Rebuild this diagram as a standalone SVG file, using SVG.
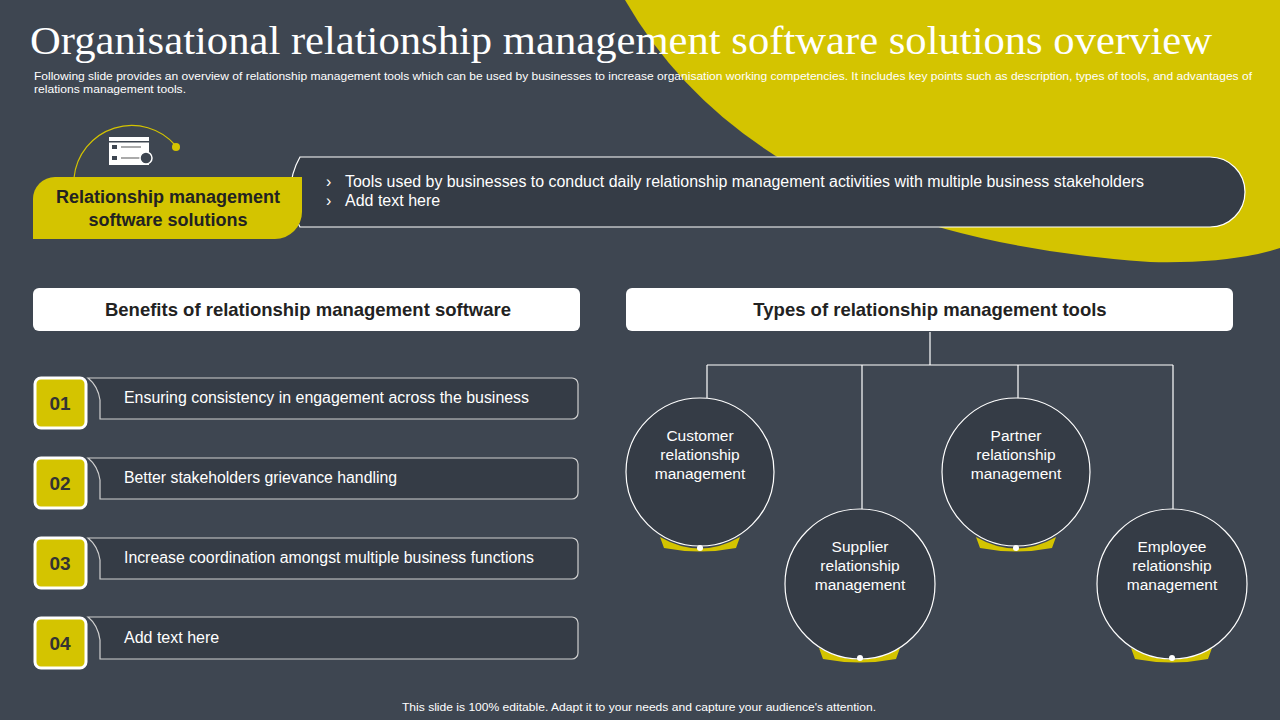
<svg xmlns="http://www.w3.org/2000/svg" width="1280" height="720" viewBox="0 0 1280 720">
<style>
text{font-family:"Liberation Sans",Arial,sans-serif}
.hd{font-size:18.5px;font-weight:bold;fill:#222;text-anchor:middle}
.it{font-size:16px;fill:#fff}
.num{font-size:19px;font-weight:bold;fill:#333;text-anchor:middle}
.ct{font-size:15.5px;fill:#fff;text-anchor:middle}
.circ{fill:#353c46;stroke:#fff;stroke-width:1.2}
.ln{stroke:#fff;stroke-width:1.2;fill:none}
.box{fill:#353c46;stroke:#d0d0d0;stroke-width:1.2}
</style>
<rect width="1280" height="720" fill="#3e4651"/>
<path d="M625,0 Q760,235 1150,262 Q1230,264 1280,248 L1280,0 Z" fill="#d4c400"/>
<text x="30" y="54" style="font-family:'Liberation Serif',serif" font-size="40" fill="#fff" textLength="1182" lengthAdjust="spacingAndGlyphs">Organisational relationship management software solutions overview</text>
<text x="34" y="80" font-size="10.5" fill="#fff" textLength="1218" lengthAdjust="spacingAndGlyphs">Following slide provides an overview of relationship management tools which can be used by businesses to increase organisation working competencies. It includes key points such as description, types of tools, and advantages of</text>
<text x="34" y="93" font-size="10.5" fill="#fff" textLength="152" lengthAdjust="spacingAndGlyphs">relations management tools.</text>
<g id="top">
<path d="M74,178 A58,58 0 0 1 176,146" fill="none" stroke="#d4c400" stroke-width="1.2"/>
<circle cx="176" cy="147" r="4" fill="#d4c400"/>
<g id="icon"><rect x="109" y="137" width="40" height="28" fill="#fff"/><rect x="112" y="145" width="5" height="4" fill="#3e4651"/><rect x="112" y="156" width="5" height="4" fill="#3e4651"/><rect x="121" y="146" width="20" height="2" fill="#aaa"/><rect x="121" y="157" width="20" height="2" fill="#aaa"/><rect x="109" y="141" width="40" height="1.5" fill="#3e4651"/><circle cx="146" cy="158" r="6" fill="#3e4651" stroke="#fff" stroke-width="1.5"/></g>
<path d="M300,157 L1210,157 A35,35 0 0 1 1210,227 L300,227 A70,70 0 0 1 300,157 Z" fill="#353c46" stroke="#fff" stroke-width="1.2"/>
<path d="M55,177 L302,177 L302,212 A27,27 0 0 1 275,239 L33,239 L33,199 A22,22 0 0 1 55,177 Z" fill="#d4c400"/>
<text x="168" y="203" font-size="18" font-weight="bold" fill="#222" text-anchor="middle">Relationship management</text>
<text x="168" y="226" font-size="18" font-weight="bold" fill="#222" text-anchor="middle">software solutions</text>
<text x="326" y="187" class="it">›</text><text x="345" y="187" class="it" textLength="799" lengthAdjust="spacingAndGlyphs">Tools used by businesses to conduct daily relationship management activities with multiple business stakeholders</text>
<text x="326" y="206" class="it">›</text><text x="345" y="206" class="it">Add text here</text>
</g>
<g id="hdr1"><rect x="33" y="288" width="547" height="43" rx="6" fill="#fff"/><text x="308" y="316" class="hd">Benefits of relationship management software</text></g>
<g id="hdr2"><rect x="626" y="288" width="607" height="43" rx="6" fill="#fff"/><text x="930" y="316" class="hd">Types of relationship management tools</text></g>
<g id="b1"><path d="M88,378 L572,378 A6,6 0 0 1 578,384 L578,413 A6,6 0 0 1 572,419 L100,419 L100,400 Q98,386 88,378 Z" class="box"/><rect x="35" y="378" width="51" height="50" rx="6" fill="#d4c400" stroke="#fff" stroke-width="3"/><text x="60" y="410" class="num">01</text><text x="124" y="403" class="it" textLength="405" lengthAdjust="spacingAndGlyphs">Ensuring consistency in engagement across the business</text></g>
<g id="b2"><path d="M88,458 L572,458 A6,6 0 0 1 578,464 L578,493 A6,6 0 0 1 572,499 L100,499 L100,480 Q98,466 88,458 Z" class="box"/><rect x="35" y="458" width="51" height="50" rx="6" fill="#d4c400" stroke="#fff" stroke-width="3"/><text x="60" y="490" class="num">02</text><text x="124" y="483" class="it" textLength="273" lengthAdjust="spacingAndGlyphs">Better stakeholders grievance handling</text></g>
<g id="b3"><path d="M88,538 L572,538 A6,6 0 0 1 578,544 L578,573 A6,6 0 0 1 572,579 L100,579 L100,560 Q98,546 88,538 Z" class="box"/><rect x="35" y="538" width="51" height="50" rx="6" fill="#d4c400" stroke="#fff" stroke-width="3"/><text x="60" y="570" class="num">03</text><text x="124" y="563" class="it" textLength="410" lengthAdjust="spacingAndGlyphs">Increase coordination amongst multiple business functions</text></g>
<g id="b4"><path d="M88,617 L572,617 A6,6 0 0 1 578,623 L578,653 A6,6 0 0 1 572,659 L100,659 L100,640 Q98,625 88,617 Z" class="box"/><rect x="35" y="618" width="51" height="50" rx="6" fill="#d4c400" stroke="#fff" stroke-width="3"/><text x="60" y="650" class="num">04</text><text x="124" y="643" class="it">Add text here</text></g>
<g id="connectors">
<path d="M930,332 V365 M707,365 H1173 M707,365 V398 M862,365 V510 M1018,365 V398 M1173,365 V510" class="ln"/>
</g>
<g id="c1"><path d="M660,537 Q700,560 740,537 L736,548 Q700,555 664,548 Z" fill="#d4c400"/><circle cx="700" cy="472" r="74" class="circ"/><circle cx="700" cy="548" r="3" fill="#fff"/><text class="ct" x="700" y="441">Customer</text><text class="ct" x="700" y="460">relationship</text><text class="ct" x="700" y="479">management</text></g>
<g id="c2"><path d="M819,648 Q860,671 900,648 L896,659 Q860,666 823,659 Z" fill="#d4c400"/><circle cx="860" cy="584" r="75" class="circ"/><circle cx="860" cy="658" r="3" fill="#fff"/><text class="ct" x="860" y="552">Supplier</text><text class="ct" x="860" y="571">relationship</text><text class="ct" x="860" y="590">management</text></g>
<g id="c3"><path d="M976,537 Q1016,560 1056,537 L1052,548 Q1016,555 980,548 Z" fill="#d4c400"/><circle cx="1016" cy="472" r="74" class="circ"/><circle cx="1016" cy="548" r="3" fill="#fff"/><text class="ct" x="1016" y="441">Partner</text><text class="ct" x="1016" y="460">relationship</text><text class="ct" x="1016" y="479">management</text></g>
<g id="c4"><path d="M1131,648 Q1172,671 1212,648 L1208,659 Q1172,666 1135,659 Z" fill="#d4c400"/><circle cx="1172" cy="584" r="75" class="circ"/><circle cx="1172" cy="658" r="3" fill="#fff"/><text class="ct" x="1172" y="552">Employee</text><text class="ct" x="1172" y="571">relationship</text><text class="ct" x="1172" y="590">management</text></g>
<text x="402" y="711" font-size="11" fill="#fff" textLength="474" lengthAdjust="spacingAndGlyphs">This slide is 100% editable. Adapt it to your needs and capture your audience's attention.</text>
</svg>
